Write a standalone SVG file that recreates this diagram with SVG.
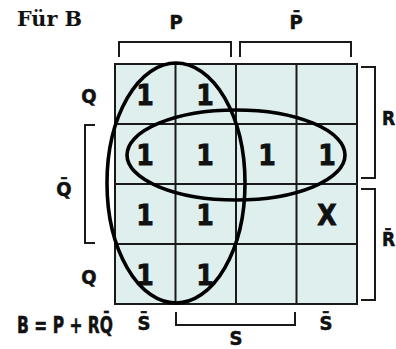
<svg xmlns="http://www.w3.org/2000/svg" width="396" height="349" viewBox="0 0 396 349">
<style>
.grid{fill:none;stroke:#1a1a1a;stroke-width:2}
.cell{fill:#dfefee}
.br{fill:none;stroke:#1a1a1a;stroke-width:2}
.loop{fill:none;stroke:#000;stroke-width:3.6}
.v{font-family:"DejaVu Sans Condensed","DejaVu Sans",sans-serif;font-weight:bold;font-size:28px;fill:#111;stroke:#111;stroke-width:0.8;text-anchor:middle}
.lb{font-family:"DejaVu Sans Condensed","DejaVu Sans",sans-serif;font-weight:bold;font-size:20px;fill:#111;stroke:#111;stroke-width:0.5;text-anchor:middle}
.ttl{font-family:"DejaVu Serif","Liberation Serif",serif;font-weight:bold;font-size:21px;fill:#111}
</style>
<rect width="396" height="349" fill="#fff"/>
<g id="map">
<rect class="cell" x="115" y="64" width="242" height="240"/>
<rect class="grid" x="115" y="64" width="242" height="240"/>
<path class="grid" d="M175.5 64V304M236 64V304M296.5 64V304M115 124H357M115 184H357M115 244H357"/>
</g>
<g id="values">
<text class="v" x="145" y="105">1</text>
<text class="v" x="205" y="105">1</text>
<text class="v" x="145" y="165">1</text>
<text class="v" x="205" y="165">1</text>
<text class="v" x="267" y="165">1</text>
<text class="v" x="327" y="165">1</text>
<text class="v" x="145" y="225">1</text>
<text class="v" x="205" y="225">1</text>
<text class="v" x="327" y="225">X</text>
<text class="v" x="145" y="285">1</text>
<text class="v" x="205" y="285">1</text>
</g>
<g id="loops">
<ellipse id="loopP" class="loop" cx="176" cy="183" rx="69" ry="120"/>
<ellipse id="loopRQ" class="loop" cx="236" cy="155" rx="109" ry="45"/>
</g>
<g id="brackets">
<path class="br" d="M119 57V42H231V57"/>
<path class="br" d="M240 57V42H351V57"/>
<path class="br" d="M361 67H375V178H361"/>
<path class="br" d="M361 189H375V300H361"/>
<path class="br" d="M95 125H85V243H95"/>
<path class="br" d="M176 312V325H295V312"/>
</g>
<g id="labels">
<text class="ttl" x="17" y="26" textLength="65" lengthAdjust="spacingAndGlyphs">Für B</text>
<text class="lb" x="176" y="29">P</text>
<text class="lb" x="296" y="29">P̄</text>
<text class="lb" x="89" y="103">Q</text>
<text class="lb" x="64" y="196">Q̄</text>
<text class="lb" x="89" y="284">Q</text>
<text class="lb" x="382" y="125" style="text-anchor:start;font-size:19px">R</text>
<text class="lb" x="382" y="246" style="text-anchor:start;font-size:19px">R̄</text>
<text class="lb" x="144" y="330">S̄</text>
<text class="lb" x="326" y="330">S̄</text>
<text class="lb" x="236" y="345">S</text>
<text class="lb" x="17" y="333" style="text-anchor:start;font-size:23px" textLength="96" lengthAdjust="spacingAndGlyphs">B = P + RQ̄</text>
</g>
</svg>
